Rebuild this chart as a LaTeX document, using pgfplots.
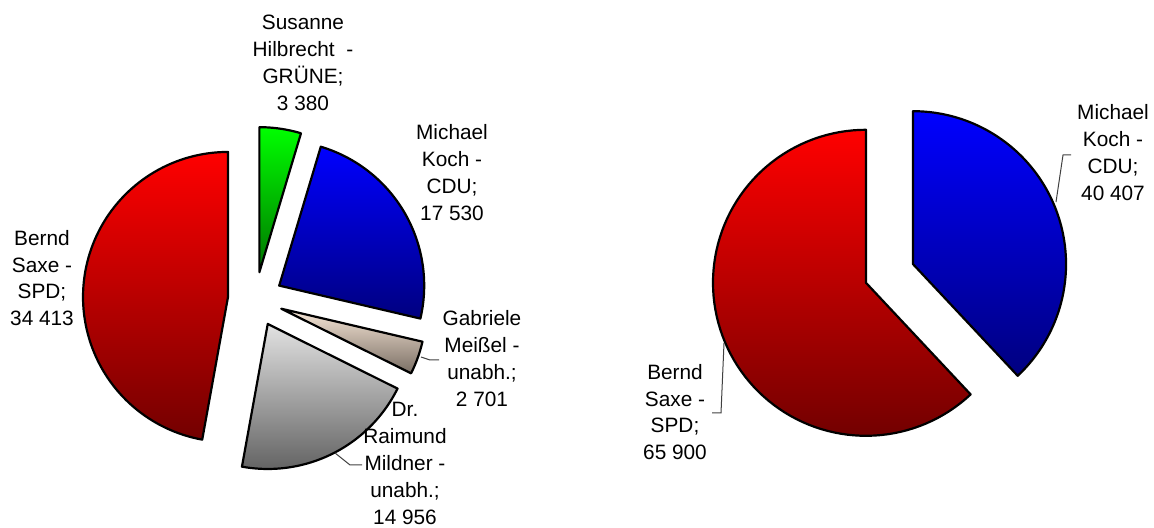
\documentclass[border=0pt]{standalone}
\usepackage{pgfplots}
\pgfplotsset{compat=1.18}
\usepackage{fontspec}
\setmainfont{Liberation Sans}

\definecolor{beigetop}{RGB}{248,232,216}
\definecolor{beigebot}{RGB}{122,110,100}
\definecolor{greytop}{RGB}{226,226,226}
\definecolor{greybot}{RGB}{100,100,100}

% pie state: centre, radius, explosion offset, total, running sum
\newcommand\startpie[5]{%
  \xdef\pcx{#1}\xdef\pcy{#2}\xdef\pr{#3}\xdef\pd{#4}\xdef\ptot{#5}\xdef\pacc{0}}
% one slice, clockwise from 12 o'clock: value, top colour, bottom colour
\newcommand\slice[3]{%
  \edef\aA{\fpeval{90-360*\pacc/\ptot}}%
  \edef\aB{\fpeval{90-360*(\pacc+#1)/\ptot}}%
  \edef\ox{\fpeval{\pcx+\pd*cosd((\aA+\aB)/2)}}%
  \edef\oy{\fpeval{\pcy+\pd*sind((\aA+\aB)/2)}}%
  \xdef\pacc{\fpeval{\pacc+#1}}%
  \edef\doslice{\noexpand\addplot[draw=black, line width=1.1pt, line join=round,
      top color=#2, bottom color=#3, domain=\aB:\aA, samples=90]
      ({\ox+\pr*cos(x)},{\oy+\pr*sin(x)}) -- (axis cs:\ox,\oy) -- cycle;}%
  \doslice}

\tikzset{lbl/.style={align=center, inner sep=0pt,
  font=\fontsize{10.4}{13.4}\selectfont}}

\begin{document}
\begin{tikzpicture}
\begin{axis}[
    width=577pt, height=264pt,
    scale only axis,
    xmin=0, xmax=1154, ymin=0, ymax=528,
    hide axis,
    clip=false
    ]
\path (axis cs:0,0) rectangle (axis cs:1154,528);

% left pie: total 72 980
\startpie{255.4}{228.6}{145}{27.5}{72980}
\slice{3380}{green}{green!45!black}      % Susanne Hilbrecht - GRUENE
\slice{17530}{blue}{blue!50!black}       % Michael Koch - CDU
\slice{2701}{beigetop}{beigebot}         % Gabriele Meissel - unabh.
\slice{14956}{greytop}{greybot}          % Dr. Raimund Mildner - unabh.
\slice{34413}{red}{red!45!black}         % Bernd Saxe - SPD

% right pie: total 106 307
\startpie{889.5}{254.5}{153}{25.3}{106307}
\slice{40407}{blue}{blue!50!black}       % Michael Koch - CDU
\slice{65900}{red}{red!45!black}         % Bernd Saxe - SPD

% leader lines
\draw[black!75, line width=0.5pt] (axis cs:421,171) -- (axis cs:430,168) -- (axis cs:439,168);
\draw[black!75, line width=0.5pt] (axis cs:335,75) -- (axis cs:350,63) -- (axis cs:362,63);
\draw[black!75, line width=0.5pt] (axis cs:724,185) -- (axis cs:721,115) -- (axis cs:712,115);
\draw[black!75, line width=0.5pt] (axis cs:1056,326) -- (axis cs:1063,373) -- (axis cs:1071,373);

% data labels
\node[lbl] at (axis cs:303,465) {Susanne\\Hilbrecht\ \ -\\GRÜNE;\\3 380};
\node[lbl] at (axis cs:452,355.5) {Michael\\Koch -\\CDU;\\17 530};
\node[lbl] at (axis cs:42,250) {Bernd\\Saxe -\\SPD;\\34 413};
\node[lbl] at (axis cs:482,169.5) {Gabriele\\Meißel -\\unabh.;\\2 701};
\node[lbl] at (axis cs:405,64.5) {Dr.\\Raimund\\Mildner -\\unabh.;\\14 956};
\node[lbl] at (axis cs:675,116) {Bernd\\Saxe -\\SPD;\\65 900};
\node[lbl] at (axis cs:1113,375.5) {Michael\\Koch -\\CDU;\\40 407};
\end{axis}
\end{tikzpicture}
\end{document}
